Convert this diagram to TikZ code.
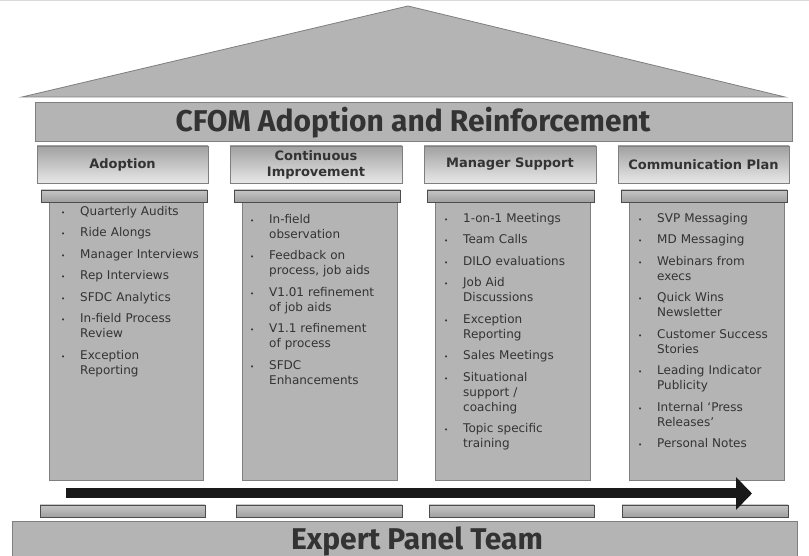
\documentclass[tikz,border=0pt]{standalone}
\usepackage{fontspec}
\setmainfont{DejaVu Sans}
\newfontfamily\titlefont{Fira Sans}
\usetikzlibrary{arrows.meta}
\definecolor{body}{HTML}{B4B4B4}
\definecolor{edge}{HTML}{7F7F7F}
\definecolor{ink}{HTML}{333333}
\newenvironment{blist}{\begin{list}{}{\setlength\leftmargin{22pt}\setlength\labelwidth{10pt}\setlength\labelsep{12pt}\setlength\itemsep{6.5pt}\setlength\parsep{0pt}\setlength\topsep{0pt}\setlength\partopsep{0pt}\setlength\itemindent{0pt}\renewcommand\makelabel[1]{\makebox[10pt][c]{\scriptsize\textbullet}}}}{\end{list}}
\tikzset{
  x=1pt,y=1pt,
  roof/.style={fill=body,draw=edge,line width=0.8pt},
  banner/.style={fill=body,draw=edge,line width=0.8pt},
  header/.style={draw=edge,line width=0.6pt,top color=gray!74,bottom color=gray!18},
  plinth/.style={draw=gray!60!black,line width=0.5pt,top color=gray!45,bottom color=gray!75},
  shaft/.style={fill=body,draw=edge,line width=0.8pt},
  htext/.style={text=ink,font=\fontsize{13}{16}\selectfont\bfseries,align=center},
  items/.style={text=ink,font=\fontsize{12}{15}\selectfont,anchor=north west,inner sep=0pt,text width=150pt,align=left},
  bigtitle/.style={text=ink,font=\titlefont\bfseries\fontsize{30}{34}\selectfont},
}
\begin{document}
\begin{tikzpicture}
\useasboundingbox (0,0) rectangle (809,556);
\fill[white] (0,0) rectangle (809,556);
\draw[gray!30,line width=1pt] (0,555) -- (809,555);
% roof
\coordinate (apex) at (408,550);
\coordinate (rl) at (22,459);
\coordinate (rr) at (785,459);
\filldraw[roof] (rl) -- (apex) -- (rr) -- cycle;
% title banner
\node[banner,minimum width=757pt,minimum height=39pt,inner sep=0pt] (title) at (413.5,434.5) {};
\node[bigtitle] (titletext) at (413,433) {CFOM Adoption and Reinforcement};
% headers
\node[header,minimum width=171pt,minimum height=37pt,inner sep=0pt] (h1) at (122.5,391.5) {};
\node[header,minimum width=172pt,minimum height=37pt,inner sep=0pt] (h2) at (316,391.5) {};
\node[header,minimum width=172pt,minimum height=37pt,inner sep=0pt] (h3) at (510,391.5) {};
\node[header,minimum width=171pt,minimum height=37pt,inner sep=0pt] (h4) at (703.5,391.5) {};
\node[htext] at (h1.center) {Adoption};
\node[htext] at (h2.center) {Continuous\\Improvement};
\node[htext] at (h3.center) {Manager Support};
\node[htext] at (h4.center) {Communication Plan};
% column bodies
\node[shaft,minimum width=154pt,minimum height=278pt,inner sep=0pt] (c1) at (126,215) {};
\node[shaft,minimum width=155pt,minimum height=278pt,inner sep=0pt] (c2) at (319.5,215) {};
\node[shaft,minimum width=155pt,minimum height=278pt,inner sep=0pt] (c3) at (512.5,215) {};
\node[shaft,minimum width=155pt,minimum height=278pt,inner sep=0pt] (c4) at (706.5,215) {};
% capitals
\node[plinth,minimum width=166pt,minimum height=12pt,inner sep=0pt] (p1) at (124,360) {};
\node[plinth,minimum width=166pt,minimum height=12pt,inner sep=0pt] (p2) at (317,360) {};
\node[plinth,minimum width=167pt,minimum height=12pt,inner sep=0pt] (p3) at (510.5,360) {};
\node[plinth,minimum width=166pt,minimum height=12pt,inner sep=0pt] (p4) at (704,360) {};
% items
\node[items] (l1) at (58,356) {\begin{blist}
\item Quarterly Audits
\item Ride Alongs
\item Manager Interviews
\item Rep Interviews
\item SFDC Analytics
\item In-field Process\\Review
\item Exception\\Reporting
\end{blist}};
\node[items] (l2) at (247,348) {\begin{blist}
\item In-field\\observation
\item Feedback on\\process, job aids
\item V1.01 refinement\\of job aids
\item V1.1 refinement\\of process
\item SFDC\\Enhancements
\end{blist}};
\node[items] (l3) at (441,349) {\begin{blist}
\item 1-on-1 Meetings
\item Team Calls
\item DILO evaluations
\item Job Aid\\Discussions
\item Exception\\Reporting
\item Sales Meetings
\item Situational\\support /\\coaching
\item Topic specific\\training
\end{blist}};
\node[items] (l4) at (635,349) {\begin{blist}
\item SVP Messaging
\item MD Messaging
\item Webinars from\\execs
\item Quick Wins\\Newsletter
\item Customer Success\\Stories
\item Leading Indicator\\Publicity
\item Internal `Press\\Releases'
\item Personal Notes
\end{blist}};
% bottom plinths
\node[plinth,minimum width=165pt,minimum height=12pt,inner sep=0pt] (b1) at (122.5,45) {};
\node[plinth,minimum width=166pt,minimum height=12pt,inner sep=0pt] (b2) at (319,45) {};
\node[plinth,minimum width=165pt,minimum height=12pt,inner sep=0pt] (b3) at (511.5,45) {};
\node[plinth,minimum width=166pt,minimum height=12pt,inner sep=0pt] (b4) at (705,45) {};
% progress arrow
\coordinate (as) at (66,62.5);
\coordinate (ae) at (752,62.5);
\draw[black!90,line width=10pt,-{Triangle[length=16pt,width=32pt]}] (as) -- (ae);
% base
\node[banner,minimum width=785pt,minimum height=36pt,inner sep=0pt] (base) at (404.5,17) {};
\node[bigtitle] (basetext) at (417,15) {Expert Panel Team};
\end{tikzpicture}
\end{document}
